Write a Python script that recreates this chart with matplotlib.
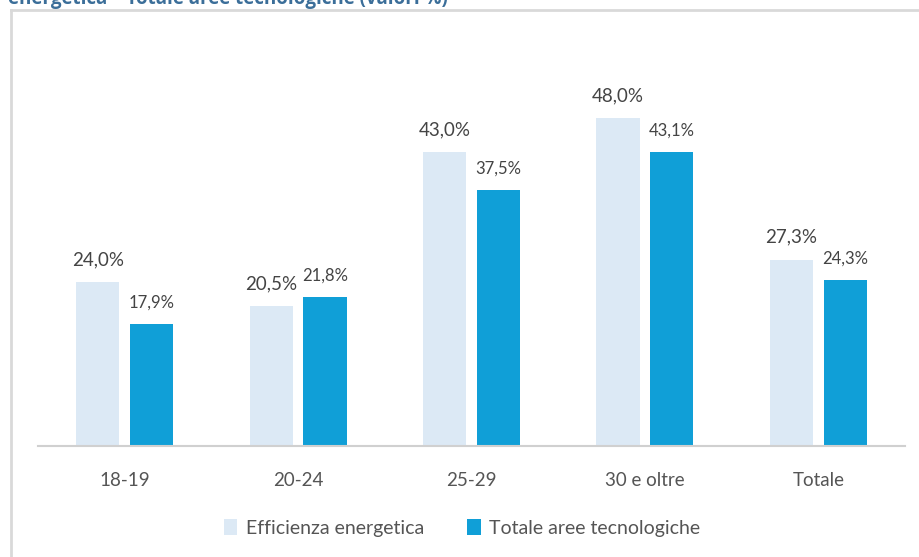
import matplotlib
matplotlib.use("Agg")
import matplotlib.pyplot as plt
from matplotlib.lines import Line2D
from matplotlib.patches import Patch
import numpy as np

plt.rcParams['font.family'] = ['Lato', 'DejaVu Sans']

categories = ["18-19", "20-24", "25-29", "30 e oltre", "Totale"]
efficienza = [24.0, 20.5, 43.0, 48.0, 27.3]
totale = [17.9, 21.8, 37.5, 43.1, 24.3]
series_names = ["Efficienza energetica", "Totale aree tecnologiche"]

c_light = "#dce9f5"
c_dark = "#109fd7"
txt = "#444444"

fig = plt.figure(figsize=(9.2, 5.57), dpi=100)
W, H = 920, 557

# frame lines
fig.add_artist(Line2D([11 / W, 11 / W], [0, 1 - 10 / H], color="#d9d9d9", lw=2, transform=fig.transFigure))
fig.add_artist(Line2D([11 / W, 1], [1 - 10 / H, 1 - 10 / H], color="#d9d9d9", lw=2, transform=fig.transFigure))

# title (clipped at top as in the reference)
fig.text(8 / W, 1 - 4 / H, "energetica \u2013 Totale aree tecnologiche (valori %)", fontsize=13.5,
         fontweight="bold", color="#3b6e99", va="baseline", ha="left",
         family=['Open Sans', 'DejaVu Sans'])

ax = fig.add_axes([38 / W, 1 - 446 / H, (905 - 38) / W, (446 - 91) / H])
x = np.arange(len(categories))
off = 0.155
bw = 0.25
ax.bar(x - off, efficienza, bw, color=c_light, zorder=2)
ax.bar(x + off, totale, bw, color=c_dark, zorder=2)

def fmt(v):
    return f"{v:.1f}%".replace(".", ",")

for xi, v in zip(x, efficienza):
    ax.annotate(fmt(v), (xi - off, v), xytext=(0, 10), textcoords="offset points",
                ha="center", va="bottom", fontsize=13.5, color=txt)
for xi, v in zip(x, totale):
    ax.annotate(fmt(v), (xi + off, v), xytext=(0, 9.5), textcoords="offset points",
                ha="center", va="bottom", fontsize=12, color=txt)

ax.set_xlim(-0.5, 4.5)
ax.set_ylim(0, 52)
ax.set_xticks(x)
ax.set_xticklabels(categories, fontsize=13.5, color="#555555")
ax.tick_params(axis="x", length=0, pad=19)
ax.set_yticks([])
for s in ["top", "right", "left"]:
    ax.spines[s].set_visible(False)
ax.spines["bottom"].set_color("#d0d0d0")
ax.spines["bottom"].set_linewidth(1.5)

handles = [Patch(facecolor=c_light), Patch(facecolor=c_dark)]
fig.legend(handles, series_names, loc="center", bbox_to_anchor=(462 / W, 1 - 528 / H), ncol=2,
           frameon=False, prop={"size": 14}, handlelength=0.7, handleheight=0.85,
           handletextpad=0.45, columnspacing=2.2, labelcolor="#555555")

fig.savefig("out.png", dpi=100)
